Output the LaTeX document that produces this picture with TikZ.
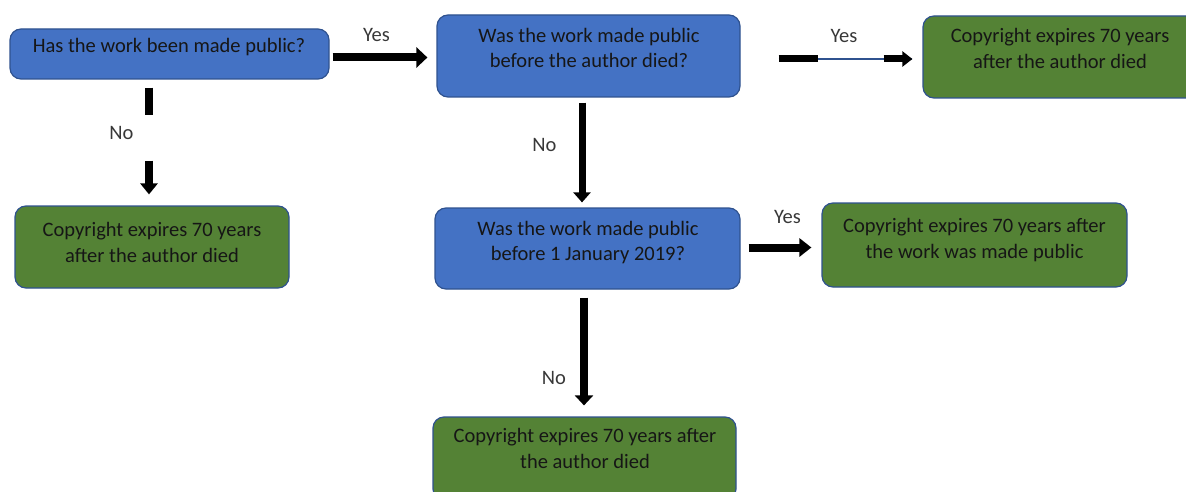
\documentclass[tikz,border=0pt]{standalone}
\usepackage{fontspec}
\setmainfont{Carlito}
\usetikzlibrary{arrows.meta}
\definecolor{qblue}{HTML}{4472C4}
\definecolor{qgreen}{HTML}{548235}
\definecolor{qedge}{HTML}{2F528F}
\definecolor{qtext}{HTML}{161616}
\definecolor{qlab}{HTML}{383838}
\tikzset{
  box/.style={draw=qedge, line width=1.2pt, rounded corners=11pt, inner sep=0pt},
  qbox/.style={box, fill=qblue},
  abox/.style={box, fill=qgreen},
  btext/.style={text=qtext, align=center, inner sep=0pt, font=\fontsize{20.5}{25.5}\selectfont},
  lab/.style={text=qlab, inner sep=0pt, anchor=base, font=\fontsize{20.5}{25.5}\selectfont},
  arr/.style={draw=black, line width=#1},
}
\begin{document}
\begin{tikzpicture}[x=1pt,y=-1pt]
\useasboundingbox (0,0) rectangle (1186,492);
% boxes
\node[qbox, minimum width=319pt, minimum height=50pt] (A) at (169.5,54) {};
\node[qbox, minimum width=303pt, minimum height=82pt] (B) at (588.5,56) {};
\node[abox, minimum width=274pt, minimum height=82pt] (C) at (1060,57) {};
\node[abox, minimum width=274pt, minimum height=82pt] (D) at (152,247) {};
\node[qbox, minimum width=305pt, minimum height=81pt] (E) at (587.5,248.5) {};
\node[abox, minimum width=305pt, minimum height=84pt] (F) at (974.5,245) {};
\node[abox, minimum width=303pt, minimum height=83pt] (G) at (584.5,458.5) {};
% texts
\node[btext, anchor=base] (tA) at (169,53) {Has the work been made public?};
\node[btext] (tB) at (589,48) {Was the work made public\\before the author died?};
\node[btext] (tC) at (1060,48.5) {Copyright expires 70 years\\after the author died};
\node[btext] (tD) at (152,242.5) {Copyright expires 70 years\\after the author died};
\node[btext] (tE) at (588,242.5) {Was the work made public\\before 1 January 2019?};
\node[btext] (tF) at (974.5,240) {Copyright expires 70 years after\\the work was made public};
\node[btext] (tG) at (585,448.5) {Copyright expires 70 years after\\the author died};
% labels
\node[lab] (y1) at (376.5,42) {Yes};
\node[lab] (y2) at (844,43) {Yes};
\node[lab] (n1) at (121.5,140) {No};
\node[lab] (n2) at (544.5,152) {No};
\node[lab] (y3) at (787.5,223) {Yes};
\node[lab] (n3) at (554,384) {No};
% connectors
\draw[arr=8pt, -{Triangle[length=11pt,width=20pt]}]
  ([shift={(3,3.5)}]A.east) -- ([shift={(-9,1.5)}]B.west);
\draw[arr=7pt, dash pattern=on 39pt off 66pt on 300pt,
      preaction={draw=qedge, line width=1.4pt, solid, arrows=-},
      -{Triangle[length=10pt,width=15pt]}]
  ([shift={(38,3)}]B.east) -- ([shift={(-10,2)}]C.west);
\draw[arr=8pt, dash pattern=on 27pt off 46pt on 300pt, -{Triangle[length=11pt,width=17pt]}]
  ([shift={(-20.5,8)}]A.south) -- ([shift={(-3,-11)}]D.north);
\draw[arr=7pt, -{Triangle[length=10pt,width=17pt]}]
  ([shift={(-6.5,5)}]B.south) -- ([shift={(-5.5,-5)}]E.north);
\draw[arr=8pt, -{Triangle[length=12pt,width=18pt]}]
  ([shift={(8,-1)}]E.east) -- ([shift={(-10,2.5)}]F.west);
\draw[arr=8pt, -{Triangle[length=10pt,width=18pt]}]
  ([shift={(-3.5,8)}]E.south) -- ([shift={(-0.5,-11)}]G.north);
\end{tikzpicture}
\end{document}
